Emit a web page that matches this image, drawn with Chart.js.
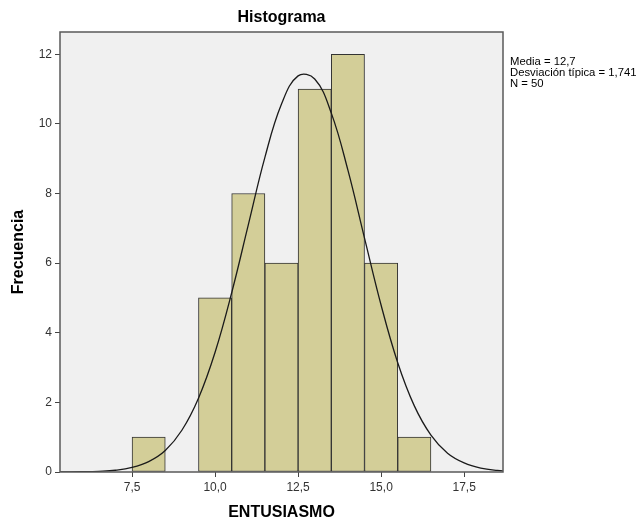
<!DOCTYPE html>
<html>
<head>
<meta charset="utf-8">
<script src="https://cdn.jsdelivr.net/npm/chart.js@4.4.0/dist/chart.umd.min.js"></script>
<style>
  html, body { margin: 0; padding: 0; background: #fff; }
  #wrap { width: 641px; height: 524px; }
</style>
</head>
<body>
<div id="wrap"><canvas id="chart"></canvas></div>
<script>
// histogram bins (centre of each bin, width 1) and counts
const binCenters = [8, 10, 11, 12, 13, 14, 15, 16];
const binCounts = [1, 5, 8, 6, 11, 12, 6, 1];

// normal curve
const curveX = [5, 5.5, 6, 6.5, 7, 7.5, 8, 8.5, 9, 9.5, 10, 10.5, 11, 11.5, 12, 12.5,
    13, 13.5, 14, 14.5, 15, 15.5, 16, 16.5, 17, 17.5, 18, 18.5, 19];
const curveY = [0.0, 0.002, 0.007, 0.02, 0.05, 0.13, 0.3, 0.62, 1.2, 2.12, 3.44, 5.15, 7.1, 9.04, 10.57, 11.38,
    11.29, 10.31, 8.67, 6.72, 4.79, 3.14, 1.9, 1.06, 0.54, 0.26, 0.11, 0.045, 0.015];

const statsLines = ['Media = 12,7', 'Desviación típica = 1,741', 'N = 50'];
const chartTitle = 'Histograma';
const xTitle = 'ENTUSIASMO';
const yTitle = 'Frecuencia';

Chart.defaults.font.family = '"Liberation Sans", Arial, sans-serif';

const plotBackground = {
    id: 'plotBackground',
    beforeDraw: function (chart) {
        const { ctx, chartArea: a } = chart;
        ctx.save();
        ctx.fillStyle = '#f0f0f0';
        ctx.fillRect(a.left, a.top, a.right - a.left, a.bottom - a.top);
        ctx.restore();
    }
};

const frameAndText = {
    id: 'frameAndText',
    afterDraw: function (chart) {
        const { ctx, chartArea: a } = chart;
        ctx.save();
        ctx.strokeStyle = '#5a5a5a';
        ctx.lineWidth = 1.5;
        ctx.strokeRect(a.left, a.top, a.right - a.left, a.bottom - a.top);

        ctx.fillStyle = '#000';
        ctx.textAlign = 'center';
        ctx.textBaseline = 'middle';
        ctx.font = 'bold 16px "Liberation Sans", Arial, sans-serif';
        ctx.fillText(chartTitle, (a.left + a.right) / 2, 18);
        ctx.fillText(xTitle, (a.left + a.right) / 2, 513);

        ctx.save();
        ctx.translate(19, (a.top + a.bottom) / 2);
        ctx.rotate(-Math.PI / 2);
        ctx.fillText(yTitle, 0, 0);
        ctx.restore();

        ctx.textAlign = 'left';
        ctx.font = '11.3px "Liberation Sans", Arial, sans-serif';
        statsLines.forEach((line, i) => {
            ctx.fillText(line, a.right + 7, 62 + i * 10.8);
        });
        ctx.restore();
    }
};

const ctx = document.getElementById('chart');

new Chart(ctx, {
    type: 'bar',
    data: {
        datasets: [{
            type: 'line',
            data: curveX.map((x, i) => ({ x: x, y: curveY[i] })),
            borderColor: '#1a1a1a',
            borderWidth: 1.3,
            pointRadius: 0,
            tension: 0.4,
            fill: false,
            order: 0
        }, {
            type: 'bar',
            data: binCenters.map((x, i) => ({ x: x, y: binCounts[i] })),
            backgroundColor: 'rgb(211, 206, 152)',
            borderColor: '#333',
            borderWidth: 1,
            borderSkipped: false,
            barPercentage: 1,
            categoryPercentage: 1,
            order: 1
        }]
    },
    options: {
        responsive: true,
        maintainAspectRatio: false,
        animation: false,
        layout: {
            padding: { left: 0, top: 32, right: 138, bottom: 0 }
        },
        plugins: {
            legend: { display: false },
            tooltip: { enabled: false }
        },
        scales: {
            x: {
                type: 'linear',
                min: 5.33,
                max: 18.67,
                offset: false,
                grid: {
                    offset: false,
                    drawOnChartArea: false,
                    drawTicks: true,
                    tickLength: 5,
                    color: '#444'
                },
                border: { display: false },
                ticks: {
                    stepSize: 2.5,
                    includeBounds: false,
                    padding: 3,
                    color: '#333',
                    font: { size: 12 },
                    maxRotation: 0,
                    callback: function (value) {
                        return value.toFixed(1).replace('.', ',');
                    }
                },
                afterFit: function (scale) { scale.height = 52; }
            },
            y: {
                min: 0,
                max: 12.64,
                grid: {
                    drawOnChartArea: false,
                    drawTicks: true,
                    tickLength: 5,
                    color: '#444'
                },
                border: { display: false },
                ticks: {
                    stepSize: 2,
                    includeBounds: false,
                    padding: 3,
                    color: '#333',
                    font: { size: 12 }
                },
                afterFit: function (scale) { scale.width = 60; }
            }
        }
    },
    plugins: [plotBackground, frameAndText]
});
</script>
</body>
</html>
